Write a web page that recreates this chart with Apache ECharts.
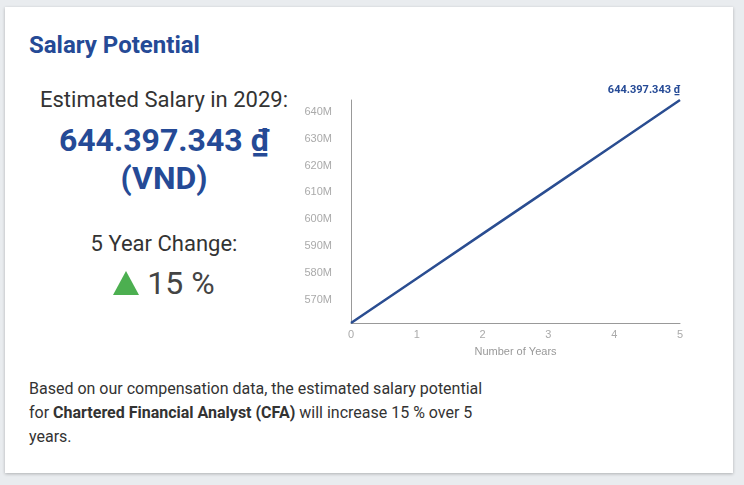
<!DOCTYPE html>
<html>
<head>
<meta charset="utf-8">
<script src="https://cdn.jsdelivr.net/npm/echarts@6/dist/echarts.min.js"></script>
<style>
html,body{margin:0;padding:0;width:744px;height:485px;background:#e9ecef;overflow:hidden;font-family:Roboto,"Noto Sans",sans-serif;}
#card{position:absolute;left:5px;top:7px;width:728px;height:466px;background:#fff;box-shadow:0 1px 3px rgba(0,0,0,0.25);}
.t{position:absolute;white-space:nowrap;}
#title{left:29px;top:30px;font-size:24px;font-weight:bold;color:#254a96;line-height:30px;}
.c{position:absolute;left:29px;width:270px;text-align:center;white-space:nowrap;color:#333;}
#est{top:86px;font-size:22px;line-height:28px;}
#val{top:122px;font-size:32px;font-weight:bold;color:#254a96;line-height:36px;}
#vnd{top:160px;font-size:32px;font-weight:bold;color:#254a96;line-height:36px;}
#chg{top:230px;font-size:22px;line-height:28px;}
#pct{top:265px;font-size:32px;line-height:36px;color:#444;}
.tri{display:inline-block;width:0;height:0;border-left:13px solid transparent;border-right:13px solid transparent;border-bottom:24px solid #4caf50;margin-right:8px;vertical-align:-1px;}
#body{position:absolute;left:29px;top:377px;width:464px;font-size:16px;line-height:24px;color:#333;}
#chart{position:absolute;left:290px;top:80px;width:420px;height:290px;}
</style>
</head>
<body>
<div id="card"></div>
<div id="title" class="t">Salary Potential</div>
<div id="est" class="c">Estimated Salary in 2029:</div>
<div id="val" class="c"></div>
<div id="vnd" class="c">(VND)</div>
<div id="chg" class="c">5 Year Change:</div>
<div id="pct" class="c"><span class="tri"></span>15 %</div>
<div id="body">Based on our compensation data, the estimated salary potential for <b>Chartered Financial Analyst (CFA)</b> will increase 15 % over 5 years.</div>
<div id="chart"></div>
<script>
var years = [0, 1, 2, 3, 4, 5];
var salary = [561300000, 577900000, 594500000, 611100000, 627700000, 644397343];
var yTicks = [570000000, 580000000, 590000000, 600000000, 610000000, 620000000, 630000000, 640000000];
var yMin = 561300000;
var yMax = 644397343;

function fmt(v){
  return String(Math.round(v)).replace(/\B(?=(\d{3})+(?!\d))/g, '.') + ' \u20AB';
}
document.getElementById('val').textContent = fmt(salary[salary.length-1]);

var chart = echarts.init(document.getElementById('chart'));
var data = years.map(function(x, i){
  var item = {value: [x, salary[i]]};
  if (i === years.length - 1) {
    item.label = {show: true, position: 'top', distance: 4, offset: [-36, 0],
      formatter: function(p){ return fmt(p.value[1]); },
      fontSize: 11, fontWeight: 'bold', color: '#254a96', fontFamily: 'Roboto, Arial, sans-serif'};
  }
  return item;
});
chart.setOption({
  animation: false,
  grid: {left: 61, top: 20, width: 329, height: 223},
  xAxis: {
    type: 'value', min: 0, max: 5, interval: 1,
    name: 'Number of Years', nameLocation: 'middle', nameGap: 23,
    nameTextStyle: {color: '#999', fontSize: 11, fontFamily: 'Arial, "Liberation Sans", sans-serif'},
    axisLine: {show: true, lineStyle: {color: '#999', width: 1}},
    axisTick: {show: false},
    splitLine: {show: false},
    axisLabel: {color: '#aaa', fontSize: 11, margin: 6, fontFamily: 'Arial, "Liberation Sans", sans-serif'}
  },
  yAxis: {
    type: 'value', min: yMin, max: yMax,
    axisLine: {show: true, lineStyle: {color: '#999', width: 1}},
    axisTick: {show: false},
    splitLine: {show: false},
    axisLabel: {
      customValues: yTicks,
      color: '#aaa', fontSize: 11, margin: 19, fontFamily: 'Arial, "Liberation Sans", sans-serif',
      formatter: function(v){ return Math.round(v/1e6) + 'M'; }
    }
  },
  series: [{
    type: 'line',
    data: data,
    symbol: 'circle', symbolSize: 0, showSymbol: true,
    lineStyle: {color: '#2a4d91', width: 2.5},
    itemStyle: {color: '#2a4d91'},
    label: {show: false}
  }]
});
</script>
</body>
</html>
